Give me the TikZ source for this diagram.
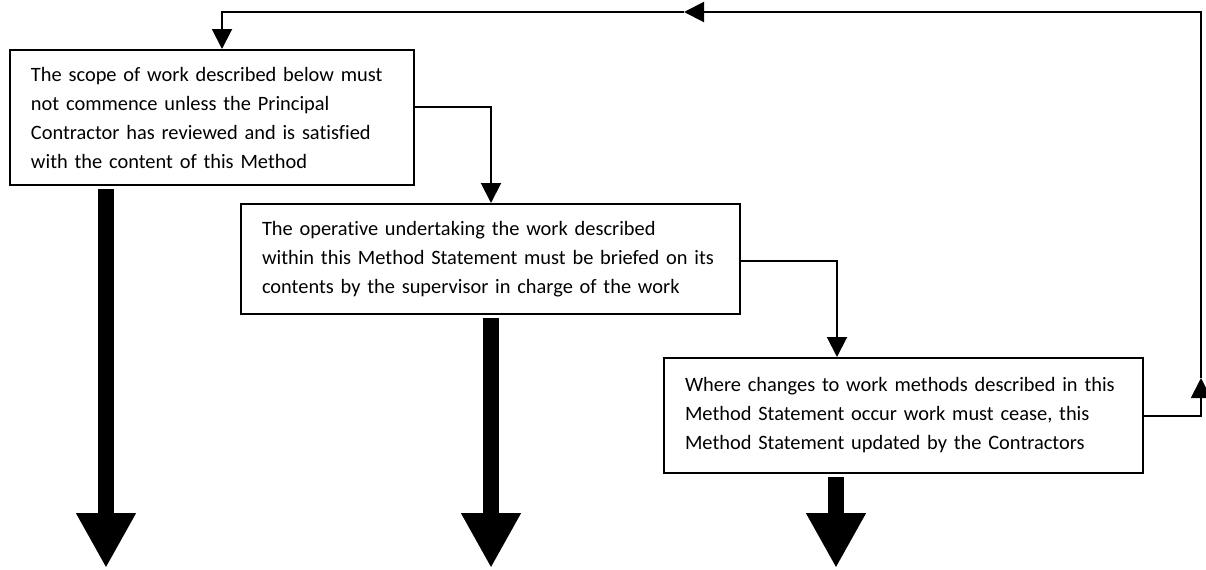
\documentclass[tikz,border=0pt]{standalone}
\usepackage{fontspec}
\setmainfont{Carlito}[Ligatures=NoCommon]
\usetikzlibrary{arrows.meta}

\begin{document}
\begin{tikzpicture}[x=0.5pt, y=-0.5pt,
    box/.style={draw, line width=1pt, rectangle, inner xsep=10.5pt, inner ysep=0pt,
        align=left, font=\fontsize{10.2}{14.5}\selectfont},
    link/.style={line width=1pt, -{Triangle[width=10pt, length=10pt]}},
    bigarrow/.style={line width=8pt, -{Triangle[width=28pt, length=27.5pt]}, shorten <=1.5pt}]
    \useasboundingbox (0,0) rectangle (1206,569);

    % Draw boxes
    \node[box, text width=181pt, minimum height=67.5pt] (scope) at (212,117.5)
        {The scope of work described below must\\
         not commence unless the Principal\\
         Contractor has reviewed and is satisfied\\
         with the content of this Method};
    \node[box, text width=228.5pt, minimum height=55pt] (brief) at (490.5,259)
        {The operative undertaking the work described\\
         within this Method Statement must be briefed on its\\
         contents by the supervisor in charge of the work};
    \node[box, text width=218.5pt, minimum height=57.5pt] (change) at (903.5,415.5)
        {Where changes to work methods described in this\\
         Method Statement occur work must cease, this\\
         Method Statement updated by the Contractors};

    % Corner points
    \coordinate (j1) at (491,107);
    \coordinate (j2) at (837,261);
    \coordinate (c1) at (1201,416);
    \coordinate (up1) at (1201,378);
    \coordinate (c2) at (1201,12);
    \coordinate (left1) at (684,12);
    \coordinate (c3) at (222,12);

    % Connectors between boxes
    \draw[link] (j1 -| scope.east) -- (j1) -- (j1 |- brief.north);
    \draw[link] (j2 -| brief.east) -- (j2) -- (j2 |- change.north);

    % Loop back to the top
    \draw[link] (c1 -| change.east) -- (c1) -- (up1);
    \draw[link] (up1) -- (c2) -- (left1);
    \draw[link] (left1) -- (c3) -- (c3 |- scope.north);

    % Thick arrows out of each box
    \coordinate (end1) at (106,568);
    \coordinate (end2) at (491,568);
    \coordinate (end3) at (836,568);
    \draw[bigarrow] (end1 |- scope.south) -- (end1);
    \draw[bigarrow] (end2 |- brief.south) -- (end2);
    \draw[bigarrow] (end3 |- change.south) -- (end3);
\end{tikzpicture}
\end{document}
